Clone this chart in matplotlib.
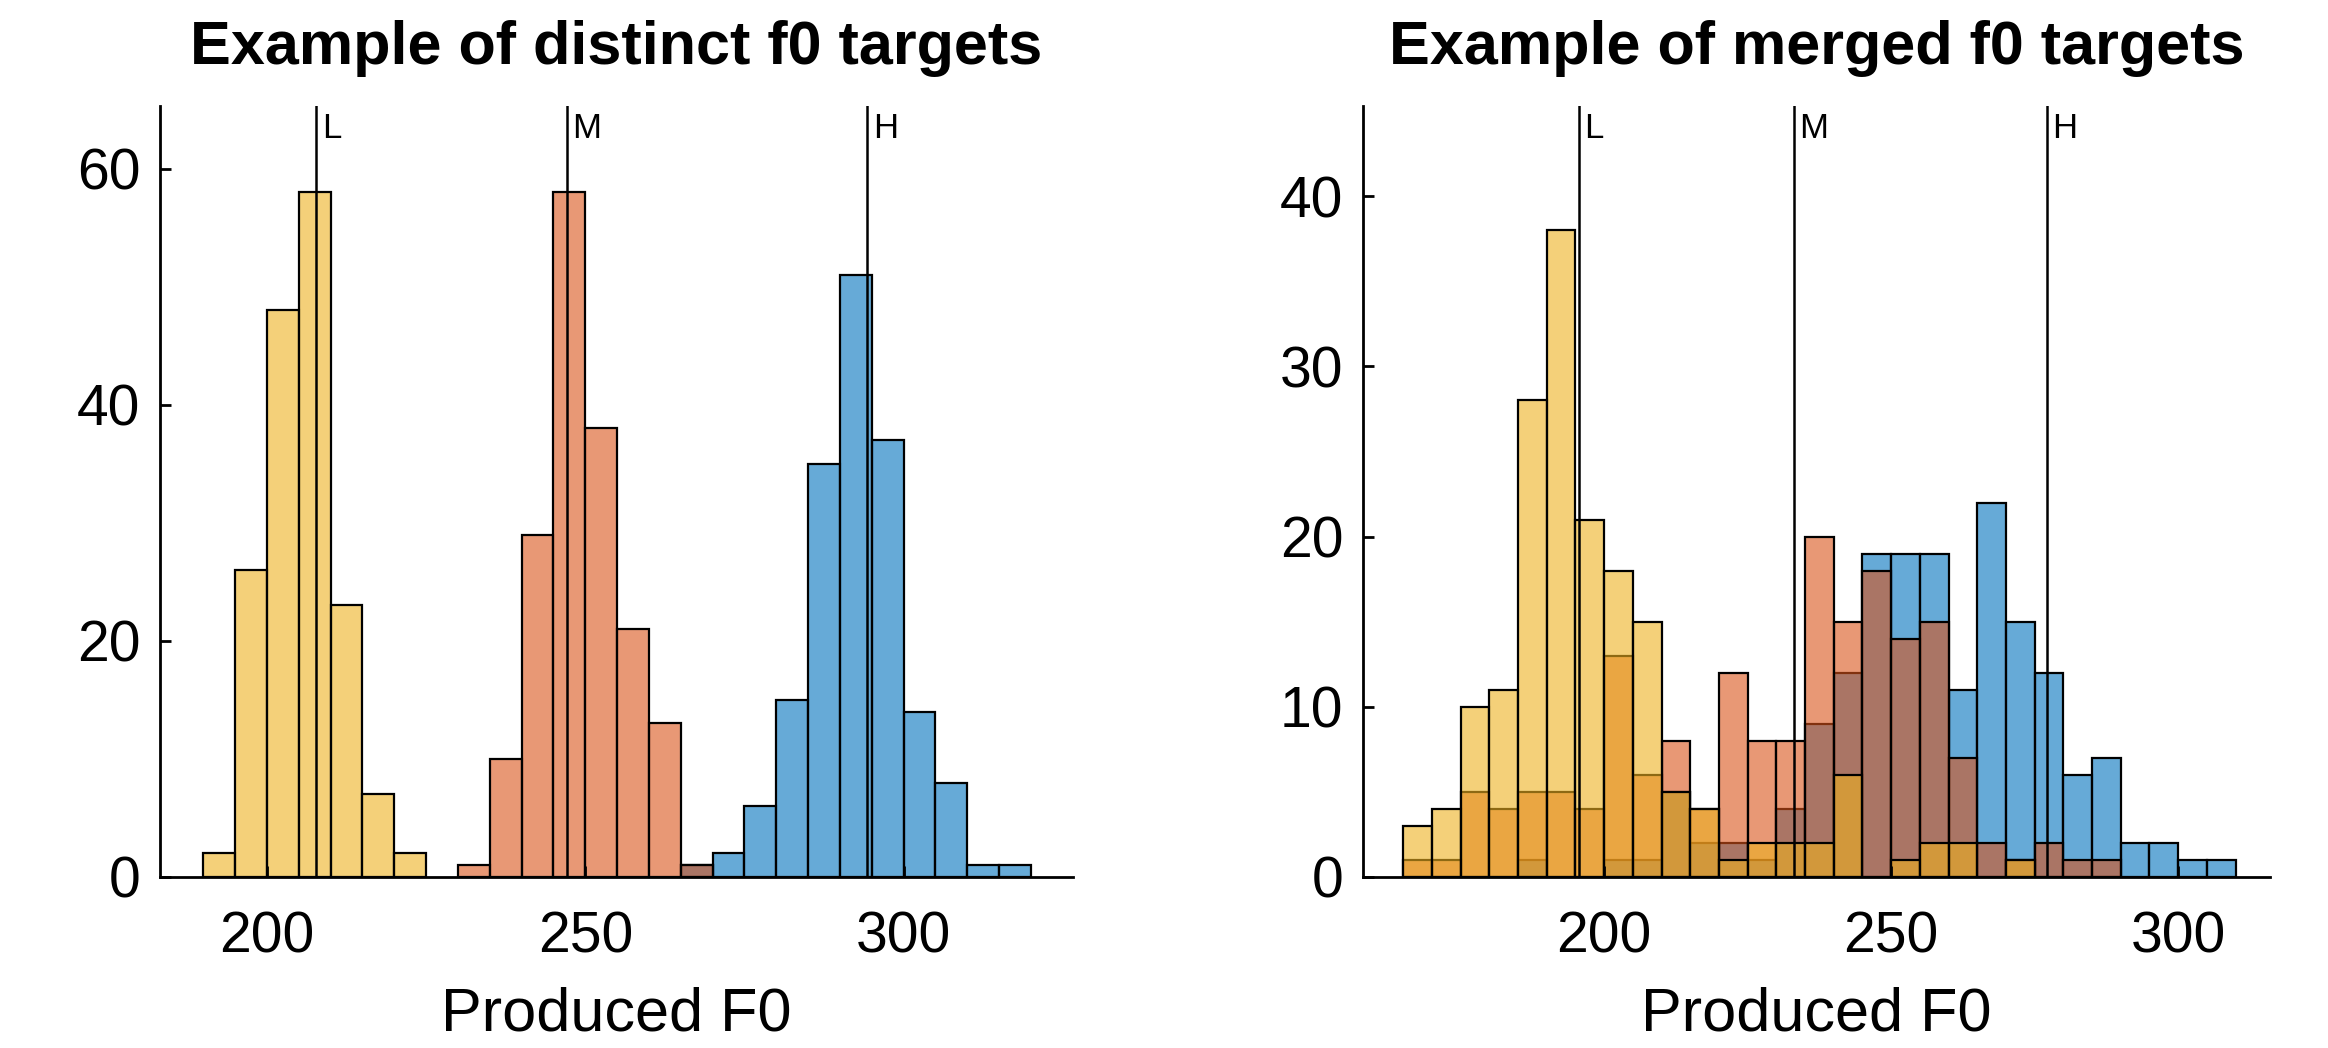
import matplotlib
matplotlib.use("Agg")
import matplotlib.pyplot as plt
import numpy as np

plt.rcParams['font.family'] = ['Liberation Sans', 'DejaVu Sans']

# MATLAB default colours, drawn with FaceAlpha 0.6
col_L = (0.929, 0.694, 0.125, 0.6)
col_M = (0.850, 0.325, 0.098, 0.6)
col_H = (0.000, 0.447, 0.741, 0.6)

# ---- distinct targets (left) ----
dist_L_bins = [190, 195, 200, 205, 210, 215, 220]
dist_L_counts = [2, 26, 48, 58, 23, 7, 2]
dist_M_bins = [230, 235, 240, 245, 250, 255, 260, 265]
dist_M_counts = [1, 10, 29, 58, 38, 21, 13, 1]
dist_H_bins = [265, 270, 275, 280, 285, 290, 295, 300, 305, 310, 315]
dist_H_counts = [1, 2, 6, 15, 35, 51, 37, 14, 8, 1, 1]
dist_targets = [207.7, 247.1, 294.3]

# ---- merged targets (right) ----
merged_bins = [165, 170, 175, 180, 185, 190, 195, 200, 205, 210, 215, 220, 225, 230, 235,
               240, 245, 250, 255, 260, 265, 270, 275, 280, 285, 290, 295, 300, 305]
merged_L = [3, 4, 10, 11, 28, 38, 21, 18, 15, 5, 4, 1, 2, 2, 2,
            6, 0, 1, 2, 2, 0, 1, 0, 0, 0, 0, 0, 0, 0]
merged_M = [1, 1, 5, 4, 5, 5, 4, 13, 6, 8, 4, 12, 8, 8, 20,
            15, 18, 14, 15, 7, 2, 1, 2, 1, 1, 0, 0, 0, 0]
merged_H = [0, 0, 0, 0, 1, 0, 0, 1, 1, 5, 2, 2, 1, 4, 9,
            12, 19, 19, 19, 11, 22, 15, 12, 6, 7, 2, 2, 1, 1]
merged_targets = [195.6, 233.1, 277.1]

target_names = ['L', 'M', 'H']
bin_w = 5

fig = plt.figure(figsize=(23.28, 10.48), dpi=100)
ax1 = fig.add_axes([0.0687, 0.1632, 0.3922, 0.7357])
ax2 = fig.add_axes([0.5855, 0.1632, 0.3896, 0.7357])


def draw_bars(ax, bins, counts, col):
    bins = np.asarray(bins)
    counts = np.asarray(counts)
    keep = counts > 0
    ax.bar(bins[keep], counts[keep], width=bin_w, align='edge', color=col,
           edgecolor='black', linewidth=1.6)


def style(ax, xlim, ylim, yticks, title, targets):
    ax.set_xlim(*xlim)
    ax.set_ylim(*ylim)
    ax.set_xticks([200, 250, 300])
    ax.set_yticks(yticks)
    for s in ['top', 'right']:
        ax.spines[s].set_visible(False)
    for s in ['left', 'bottom']:
        ax.spines[s].set_linewidth(2)
    ax.tick_params(direction='in', length=8, width=2, labelsize=41)
    ax.tick_params(axis='x', pad=24)
    ax.tick_params(axis='y', pad=14)
    ax.set_xlabel('Produced F0', fontsize=44, labelpad=16)
    ax.set_title(title, fontsize=44, fontweight='bold', pad=30)
    for t, name in zip(targets, target_names):
        ax.axvline(t, color='black', linewidth=1.8, zorder=5)
        ax.text(t + 0.9, 0.958, name, transform=ax.get_xaxis_transform(),
                fontsize=25, ha='left', va='baseline', zorder=6)


# blue first, then orange, then yellow on top
draw_bars(ax1, dist_H_bins, dist_H_counts, col_H)
draw_bars(ax1, dist_M_bins, dist_M_counts, col_M)
draw_bars(ax1, dist_L_bins, dist_L_counts, col_L)
style(ax1, (183.2, 326.6), (0, 65.3), [0, 20, 40, 60],
      'Example of distinct f0 targets', dist_targets)

draw_bars(ax2, merged_bins, merged_H, col_H)
draw_bars(ax2, merged_bins, merged_M, col_M)
draw_bars(ax2, merged_bins, merged_L, col_L)
style(ax2, (158, 316), (0, 45.3), [0, 10, 20, 30, 40],
      'Example of merged f0 targets', merged_targets)

fig.savefig('out.png', dpi=100)
